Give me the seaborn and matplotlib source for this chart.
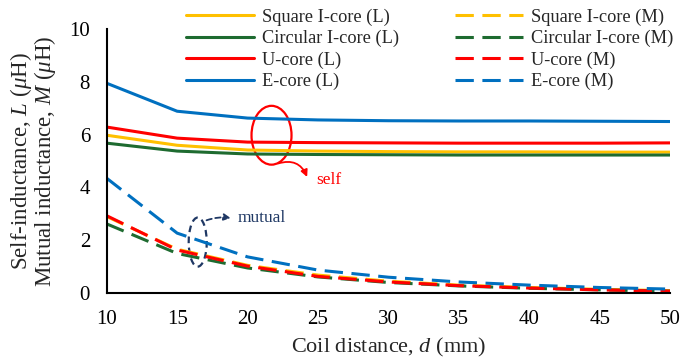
import numpy as np
import pandas as pd
import matplotlib
matplotlib.use("Agg")
import matplotlib.pyplot as plt
from matplotlib.patches import Ellipse
import seaborn as sns

# Coil distance (mm)
distance = [10, 15, 20, 25, 30, 35, 40, 45, 50]

# Self-inductance L (uH)
square_L = [5.98, 5.60, 5.42, 5.38, 5.36, 5.35, 5.35, 5.34, 5.34]
circular_L = [5.68, 5.38, 5.27, 5.25, 5.24, 5.23, 5.23, 5.23, 5.23]
u_L = [6.29, 5.87, 5.72, 5.70, 5.69, 5.68, 5.68, 5.68, 5.69]
e_L = [7.95, 6.89, 6.63, 6.56, 6.53, 6.52, 6.52, 6.51, 6.50]

# Mutual inductance M (uH)
square_M = [2.90, 1.66, 1.05, 0.68, 0.45, 0.30, 0.21, 0.14, 0.09]
circular_M = [2.62, 1.50, 0.95, 0.61, 0.40, 0.27, 0.18, 0.12, 0.07]
u_M = [2.93, 1.63, 1.02, 0.63, 0.42, 0.28, 0.19, 0.12, 0.07]
e_M = [4.35, 2.27, 1.37, 0.87, 0.60, 0.42, 0.30, 0.21, 0.15]

series_names = ["Square I-core", "Circular I-core", "U-core", "E-core"]
colors = ["#FFC000", "#1E6B30", "#FF0000", "#0070C0"]

sns.set_theme(style="white")
plt.rcParams["font.family"] = ["Liberation Serif", "DejaVu Serif"]
plt.rcParams["mathtext.fontset"] = "custom"
plt.rcParams["mathtext.rm"] = "Liberation Serif"
plt.rcParams["mathtext.it"] = "Liberation Serif:italic"

rows = []
for name, vals in zip(series_names, [square_L, circular_L, u_L, e_L]):
    for d, v in zip(distance, vals):
        rows.append({"d": d, "value": v, "series": f"{name} (L)"})
for name, vals in zip(series_names, [square_M, circular_M, u_M, e_M]):
    for d, v in zip(distance, vals):
        rows.append({"d": d, "value": v, "series": f"{name} (M)"})
df = pd.DataFrame(rows)

fig = plt.figure(figsize=(6.93, 3.60), dpi=100)
ax = fig.add_axes([0.154, 0.186, 0.813, 0.733])

lw = 2.2
for name, c in zip(series_names, colors):
    sub = df[df["series"] == f"{name} (L)"]
    sns.lineplot(data=sub, x="d", y="value", color=c, lw=lw, ax=ax,
                 label=f"{name} (L)")
for name, c in zip(series_names, colors):
    sub = df[df["series"] == f"{name} (M)"]
    sns.lineplot(data=sub, x="d", y="value", color=c, lw=lw, ax=ax,
                 label=f"{name} (M)")
    ax.lines[-1].set_dashes((6, 2.8))

ax.set_xlim(10, 50)
ax.set_ylim(0, 10)
ax.set_xticks(range(10, 51, 5))
ax.set_yticks(range(0, 11, 2))
for s in ["top", "right"]:
    ax.spines[s].set_visible(False)
for s in ["left", "bottom"]:
    ax.spines[s].set_color("black")
    ax.spines[s].set_linewidth(1.5)
ax.tick_params(axis="both", direction="in", length=6, width=1.3,
               labelsize=15, colors="black")
ax.tick_params(axis="x", pad=12)
ax.tick_params(axis="y", pad=12)
ax.set_xlabel(r"Coil distance, $d$ (mm)", fontsize=16, labelpad=5)
ax.set_ylabel("Self-inductance, $L$ ($\\mu$H)\nMutual inductance, $M$ ($\\mu$H)",
              fontsize=16.5, labelpad=8, linespacing=0.9)

handles, labels = ax.get_legend_handles_labels()
leg = fig.legend(handles, labels, loc="upper left",
                 bbox_to_anchor=(0.268, 0.976), ncol=2, frameon=False,
                 fontsize=13.2, handlelength=3.7, columnspacing=3.1,
                 handletextpad=0.44, labelspacing=0.22, borderaxespad=0,
                 borderpad=0)
ax.get_legend().remove()

# Self-inductance callout
ax.add_patch(Ellipse((21.7, 5.98), 2.84, 2.23, fill=False, ec="#FF0000", lw=1.6))
ax.annotate("", xy=(24.3, 4.3), xytext=(22.0, 4.88),
            arrowprops=dict(arrowstyle="-|>", color="#FF0000", lw=1.3,
                            connectionstyle="arc3,rad=-0.5", mutation_scale=10))
ax.text(24.9, 4.3, "self", color="#FF0000", fontsize=12.5, va="center", ha="left")

# Mutual-inductance callout
navy = "#1F3864"
ax.add_patch(Ellipse((16.46, 1.93), 1.28, 1.86, fill=False, ec=navy, lw=1.6,
                     ls=(0, (3, 2))))
ax.annotate("", xy=(19.0, 2.82), xytext=(16.9, 2.72),
            arrowprops=dict(arrowstyle="-|>", color=navy, lw=1.3, ls=(0, (3, 2)),
                            connectionstyle="arc3,rad=-0.15", mutation_scale=10))
ax.text(19.3, 2.85, "mutual", color=navy, fontsize=12.5, va="center", ha="left")

fig.savefig("out.png", dpi=100)
